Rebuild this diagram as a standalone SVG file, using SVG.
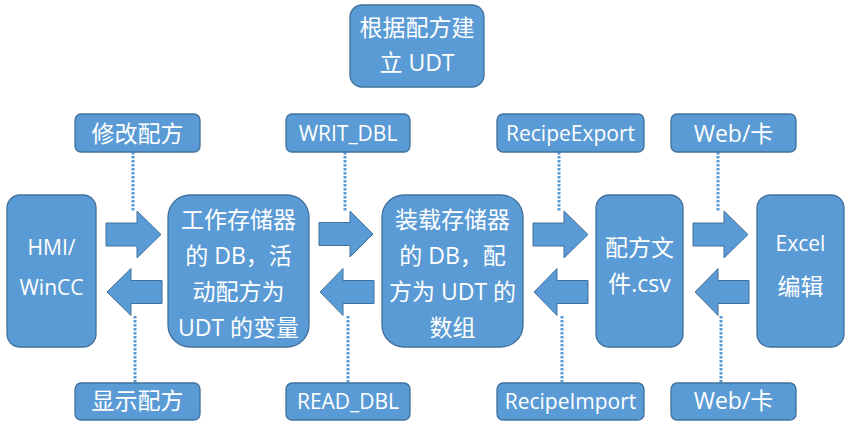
<svg xmlns="http://www.w3.org/2000/svg" width="850" height="428" viewBox="0 0 850 428">
<style>
.n{fill:#5B9BD5;stroke:#41719C;stroke-width:1.3}
.a{fill:#5B9BD5;stroke:#41719C;stroke-width:1}
.d{stroke:#5B9BD5;stroke-width:3;stroke-dasharray:2.5 1.5;fill:none}
text{fill:#fff;font-family:"Open Sans","Noto Sans CJK SC",sans-serif;font-size:23px;text-anchor:middle}
text.l{font-size:21px}
</style>
<rect width="850" height="428" fill="#fff"/>
<g id="connectors">
<line class="d" x1="133" y1="152" x2="133" y2="212"/>
<line class="d" x1="135" y1="316" x2="135" y2="383"/>
<line class="d" x1="345" y1="152" x2="345" y2="212"/>
<line class="d" x1="348" y1="316" x2="348" y2="383"/>
<line class="d" x1="559" y1="152" x2="559" y2="212"/>
<line class="d" x1="562" y1="316" x2="562" y2="383"/>
<line class="d" x1="718" y1="152" x2="718" y2="212"/>
<line class="d" x1="721" y1="316" x2="721" y2="383"/>
<polygon class="a" points="106,223 137,223 137,211 161,234.5 137,258 137,246 106,246"/>
<polygon class="a" points="162,280.5 131,280.5 131,268.5 107,292 131,315.5 131,303.5 162,303.5"/>
<polygon class="a" points="319,222.5 350,222.5 350,211 373,234 350,257 350,245.5 319,245.5"/>
<polygon class="a" points="374,280.5 343,280.5 343,268.5 320,292 343,315.5 343,303.5 374,303.5"/>
<polygon class="a" points="533,223 564,223 564,211 588,234.5 564,258 564,246 533,246"/>
<polygon class="a" points="588,280.5 557,280.5 557,268.5 534,292 557,315.5 557,303.5 588,303.5"/>
<polygon class="a" points="693,223 724,223 724,211 748,234.5 724,258 724,246 693,246"/>
<polygon class="a" points="749,280.5 718,280.5 718,268.5 695,292 718,315.5 718,303.5 749,303.5"/>
</g>
<g id="udt">
<rect class="n" x="350" y="5" width="134" height="82" rx="12"/>
<text x="417" y="35.5">根据配方建</text>
<text x="417" y="70.5">立 UDT</text>
</g>
<g id="hmi">
<rect class="n" x="7" y="195" width="89" height="152" rx="13"/>
<text class="l" x="51.5" y="255">HMI/</text>
<text class="l" x="51.5" y="295">WinCC</text>
</g>
<g id="workdb">
<rect class="n" x="168" y="195" width="141" height="152" rx="22"/>
<text x="238.5" y="228">工作存储器</text>
<text x="238.5" y="264">的 DB，活</text>
<text x="238.5" y="300">动配方为</text>
<text x="238.5" y="336">UDT 的变量</text>
</g>
<g id="loaddb">
<rect class="n" x="382" y="195" width="141" height="152" rx="22"/>
<text x="452.5" y="228">装载存储器</text>
<text x="452.5" y="264">的 DB，配</text>
<text x="452.5" y="300">方为 UDT 的</text>
<text x="452.5" y="336">数组</text>
</g>
<g id="csv">
<rect class="n" x="596" y="195" width="87" height="152" rx="13"/>
<text x="639.5" y="255.5">配方文</text>
<text x="639.5" y="291.5">件.csv</text>
</g>
<g id="excel">
<rect class="n" x="757" y="195" width="87" height="152" rx="13"/>
<text class="l" x="800.5" y="251">Excel</text>
<text x="800.5" y="294.5">编辑</text>
</g>
<g id="lbl-modify">
<rect class="n" x="75" y="114" width="125" height="38" rx="6"/>
<text x="137.5" y="141.5">修改配方</text>
</g>
<g id="lbl-writ">
<rect class="n" x="286" y="114" width="124" height="38" rx="6"/>
<text class="l" x="348" y="141">WRIT_DBL</text>
</g>
<g id="lbl-export">
<rect class="n" x="497" y="114" width="147" height="38" rx="6"/>
<text class="l" x="570.5" y="141">RecipeExport</text>
</g>
<g id="lbl-web1">
<rect class="n" x="671" y="114" width="125" height="38" rx="6"/>
<text x="733.5" y="141.5">Web/卡</text>
</g>
<g id="lbl-show">
<rect class="n" x="75" y="383" width="125" height="37" rx="6"/>
<text x="137.5" y="409">显示配方</text>
</g>
<g id="lbl-read">
<rect class="n" x="286" y="383" width="124" height="37" rx="6"/>
<text class="l" x="348" y="408.5">READ_DBL</text>
</g>
<g id="lbl-import">
<rect class="n" x="497" y="383" width="147" height="37" rx="6"/>
<text class="l" x="570.5" y="408.5">RecipeImport</text>
</g>
<g id="lbl-web2">
<rect class="n" x="671" y="383" width="125" height="37" rx="6"/>
<text x="733.5" y="409">Web/卡</text>
</g>
</svg>
